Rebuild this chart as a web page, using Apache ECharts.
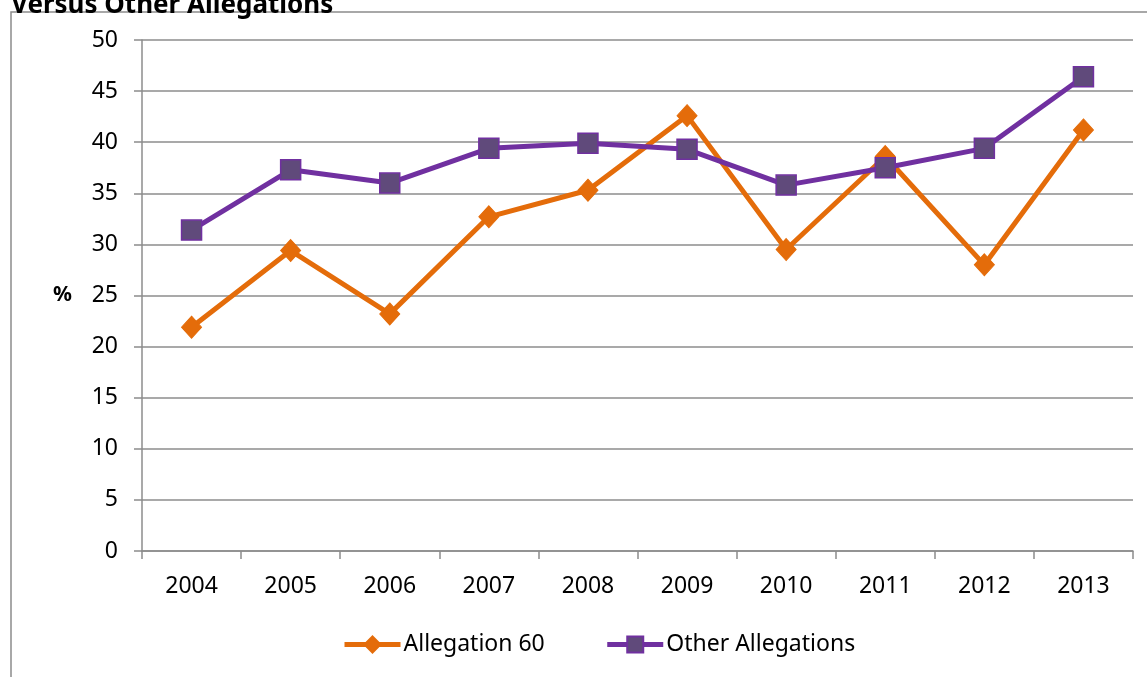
<!DOCTYPE html>
<html>
<head>
    <meta charset="utf-8">
    <title>Allegation 60 versus Other Allegations</title>
    <script src="https://cdn.jsdelivr.net/npm/echarts@6/dist/echarts.min.js"></script>
    <style>
        html, body { margin: 0; padding: 0; background: #fff; }
        #chart { width: 1147px; height: 677px; }
    </style>
</head>
<body>
<div id="chart"></div>
<script type="text/javascript">
    // 数据
    var years = ['2004', '2005', '2006', '2007', '2008', '2009', '2010', '2011', '2012', '2013'];
    var allegation60 = [21.9, 29.4, 23.2, 32.7, 35.3, 42.6, 29.5, 38.6, 28.0, 41.2];
    var otherAllegations = [31.4, 37.3, 36.0, 39.4, 39.9, 39.3, 35.8, 37.5, 39.4, 46.4];

    var font = '"Noto Sans", "Open Sans", sans-serif';
    var gray = '#8c8c8c';

    var myChart = echarts.init(document.getElementById('chart'));
    myChart.setOption({
        animation: false,
        textStyle: { fontFamily: font },
        graphic: [
            {
                type: 'rect',
                shape: { x: 11, y: 12, width: 1200, height: 800 },
                style: { fill: 'none', stroke: gray, lineWidth: 1.5 },
                silent: true
            },
            {
                type: 'text',
                x: 11,
                y: 19,
                style: {
                    text: 'Versus Other Allegations',
                    font: 'bold 26px ' + font,
                    fill: '#000',
                    verticalAlign: 'bottom'
                }
            }
        ],
        grid: { left: 142, right: 14, top: 40, bottom: 126 },
        legend: {
            bottom: 16,
            left: 337,
            itemWidth: 56,
            itemHeight: 20,
            itemGap: 60,
            lineStyle: { width: 5 },
            textStyle: { fontSize: 23, color: '#000', fontFamily: font, padding: [0, 0, 0, -2] },
            data: ['Allegation 60', 'Other Allegations']
        },
        xAxis: {
            type: 'category',
            data: years,
            boundaryGap: true,
            axisLine: { lineStyle: { color: gray, width: 1.5 } },
            axisTick: { show: true, length: 8, lineStyle: { color: gray, width: 1.5 } },
            axisLabel: { fontSize: 23, color: '#000', margin: 24 }
        },
        yAxis: {
            type: 'value',
            min: 0,
            max: 50,
            interval: 5,
            name: '%',
            nameLocation: 'middle',
            nameRotate: 0,
            nameGap: 70,
            nameTextStyle: { fontSize: 21, fontWeight: 'bold', color: '#000', padding: [6, 0, 0, 0] },
            axisLine: { show: true, lineStyle: { color: gray, width: 1.5 } },
            axisTick: { show: true, length: 8, lineStyle: { color: gray, width: 1.5 } },
            axisLabel: { fontSize: 23, color: '#000', margin: 24 },
            splitLine: { lineStyle: { color: gray, width: 1.5 } }
        },
        series: [
            {
                name: 'Allegation 60',
                type: 'line',
                data: allegation60,
                symbol: 'diamond',
                symbolSize: [20, 22],
                lineStyle: { color: '#E46C0A', width: 5 },
                itemStyle: { color: '#E46C0A', borderColor: '#E46C0A', borderWidth: 1 }
            },
            {
                name: 'Other Allegations',
                type: 'line',
                data: otherAllegations,
                symbol: 'rect',
                symbolSize: 20,
                lineStyle: { color: '#7030A0', width: 5 },
                itemStyle: { color: '#604A7B', borderColor: '#7030A0', borderWidth: 1.5 }
            }
        ]
    });
</script>
</body>
</html>
